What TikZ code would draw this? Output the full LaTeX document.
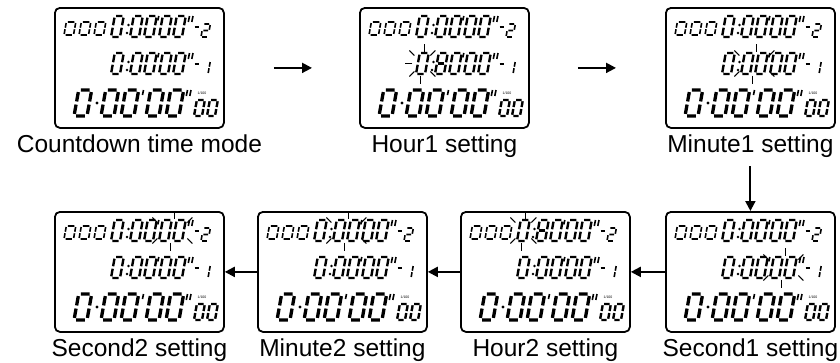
\documentclass[tikz,border=0pt]{standalone}
\usepackage{fontspec}
\setmainfont{Liberation Sans}
\usetikzlibrary{positioning,arrows.meta}
\def\panelw{169pt}
\def\panelh{120pt}
\tikzset{
	panel/.style={draw,line width=1.8pt,rounded corners=5pt,minimum width=\panelw,minimum height=\panelh,anchor=north west,inner sep=0pt},
	caption/.style={font=\fontsize{24.5}{29}\selectfont,inner sep=0pt,text height=17.6pt,text depth=5.4pt},
	seg/.style={line width=2.4pt},
	big/.style={line width=3.3pt},
	thinseg/.style={line width=1.6pt},
	ray/.style={line width=1pt},
	flow/.style={->,line width=2pt}
}
\newcommand{\lcdglyph}[6][]{\begin{scope}[shift={(#2,#3)},x=#4pt,y=#5pt,xslant=0.18]
	\draw[seg,#1] #6;
	\end{scope}}
\newcommand{\lcdzero}[5][]{\lcdglyph[#1]{#2}{#3}{#4}{#5}{(.16,1)--(.84,1) (1,.92)--(1,.56) (1,.44)--(1,.08) (.16,0)--(.84,0) (0,.08)--(0,.44) (0,.56)--(0,.92)}}
\newcommand{\lcdtwo}[5][]{\lcdglyph[#1]{#2}{#3}{#4}{#5}{(.16,1)--(.84,1) (1,.92)--(1,.56) (.16,.5)--(.84,.5) (0,.44)--(0,.08) (.16,0)--(.84,0)}}
\newcommand{\lcdone}[5][]{\lcdglyph[#1]{#2}{#3}{#4}{#5}{(1,.92)--(1,.56) (1,.44)--(1,.08)}}
\newcommand{\lcdmid}[5][]{\lcdglyph[#1]{#2}{#3}{#4}{#5}{(.16,.5)--(.84,.5)}}
\newcommand{\lcdpanel}[4]{\node[panel] (#3) at (#1,#2) {};
	\node[caption,below=6pt of #3] (#3-cap) {#4};
	\begin{scope}[shift={(#1,#2)}]
	\foreach \x in {10,25,40} {\lcdzero[thinseg]{\x}{28}{9.5}{13}}
	\foreach \y in {30,67} {
		\foreach \x in {57,76,90,105,119} {\lcdzero{\x}{\y}{9}{21}}
		\fill (74.5,\y-12) circle (1.3pt) (73,\y-4) circle (1.3pt);
		\draw[thinseg] (104.8,\y-21)--(103.8,\y-16.5);
		\draw[thinseg] (135.5,\y-21)--(134.3,\y-15) (139,\y-21)--(137.8,\y-15);
		\draw[seg] (140.5,\y-10)--(144.5,\y-10);
	}
	\lcdtwo[thinseg]{147}{30}{7}{13}
	\lcdone[thinseg]{147}{67}{7}{13}
	\foreach \x in {20,47,67,92,112} {\lcdzero[big]{\x}{109}{13}{26}}
	\fill (43,96) circle (1.7pt);
	\draw[thinseg] (89.5,83)--(88.5,88);
	\draw[thinseg] (133.5,83)--(132.3,89) (137,83)--(135.8,89);
	\foreach \x in {140,153} {\lcdzero{\x}{109}{8}{16}}
	\node[font=\fontsize{3.5}{4}\selectfont,inner sep=0pt] (#3-unit) at (148,86) {1/100};
	\end{scope}}
\newcommand{\blink}[5][]{\begin{scope}[shift={(#2.north west)},shift={(#3,#4)}]
	\foreach \s in {-1,1} {
		\draw[ray] (-\s*2,\s*12)--(-\s*2,\s*20);
		\draw[ray] (\s*#5+\s*1,-8)--(\s*#5+\s*6,-13);
		\draw[ray] (\s*#5+\s*1,8)--(\s*#5+\s*6,13);
	}
	#1
	\end{scope}}

\begin{document}
\begin{tikzpicture}[x=1pt,y=-1pt,>={Triangle[length=10pt,width=10pt]}]
\useasboundingbox (0,0) rectangle (840,362);
\lcdpanel{54}{7}{A}{Countdown time mode}
\lcdpanel{359}{7}{B}{Hour1 setting}
\lcdpanel{665}{7}{C}{Minute1 setting}
\lcdpanel{54}{211}{D}{Second2 setting}
\lcdpanel{257}{211}{E}{Minute2 setting}
\lcdpanel{460}{211}{F}{Hour2 setting}
\lcdpanel{665}{211}{G}{Second1 setting}

\blink[{\draw[ray] (-10,0)--(-17,0);}]{B}{63.4}{56.5}{7}
\lcdmid{359+76}{7+67}{9}{21}
\blink{C}{89.4}{56.5}{14}
\blink{G}{118.4}{56.5}{14}
\blink{F}{63.4}{19.5}{7}
\lcdmid{460+76}{211+30}{9}{21}
\blink{E}{89.4}{19.5}{14}
\blink{D}{118.4}{19.5}{14}

\draw[flow] ([xshift=49pt]A.east) -- ([xshift=-47pt]B.west);
\draw[flow] ([xshift=48pt]B.east) -- ([xshift=-49pt]C.west);
\draw[flow] ([yshift=-8pt]C-cap.south) -- (G.north);
\draw[flow] (G.west) -- (F.east);
\draw[flow] (F.west) -- (E.east);
\draw[flow] (E.west) -- (D.east);
\end{tikzpicture}
\end{document}
